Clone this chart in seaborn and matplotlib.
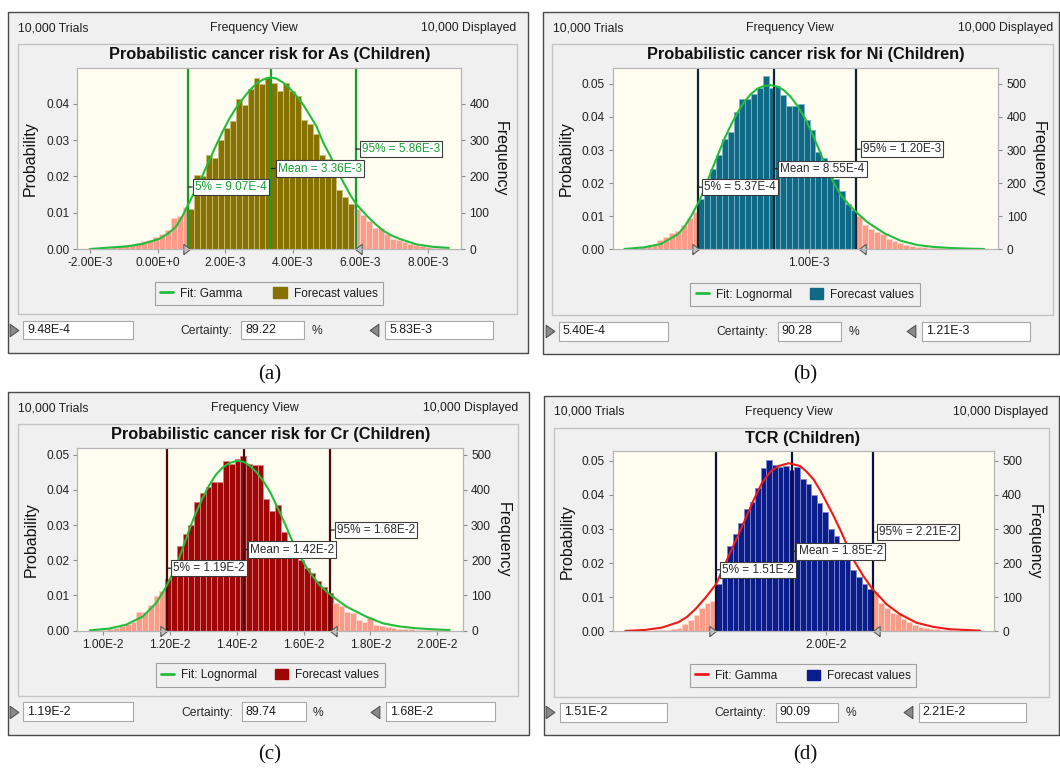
import numpy as np
import pandas as pd
import matplotlib
matplotlib.use("Agg")
import matplotlib.pyplot as plt
import seaborn as sns
from matplotlib.patches import Rectangle, Patch
from matplotlib.lines import Line2D

sns.set_style("white")
plt.rcParams['font.family'] = ['Liberation Sans', 'DejaVu Sans']

# ======================= DATA =======================
header_left = "10,000 Trials"
header_mid = "Frequency View"
header_right = "10,000 Displayed"
trials = 10000
label_prob = "Probability"
label_freq = "Frequency"
legend_hist = "Forecast values"
certainty_word = "Certainty:"

# ---- (a) As ----
a_title = "Probabilistic cancer risk for As (Children)"
a_fit_name = "Fit: Gamma"
a_bin_start = -2.064e-3
a_bin_width = 1.75e-4
a_prob = [0.0002, 0.0002, 0.0003, 0.0004, 0.0005, 0.0007, 0.0010, 0.0012, 0.0016, 0.0022,
          0.0025, 0.0033, 0.0042, 0.0053, 0.0085, 0.0090, 0.0115,
          0.0111, 0.0203, 0.0200, 0.0260, 0.0251, 0.0301, 0.0334, 0.0352, 0.0414, 0.0396,
          0.0440, 0.0471, 0.0455, 0.0474,
          0.0458, 0.0434, 0.0457, 0.0434, 0.0422, 0.0355, 0.0344, 0.0317, 0.0258, 0.0248,
          0.0198, 0.0162, 0.0143, 0.0123,
          0.0111, 0.0093, 0.0076, 0.0059, 0.0059, 0.0042, 0.0028, 0.0024, 0.0018, 0.0013,
          0.0010, 0.0008, 0.0005, 0.0003, 0.0002, 0.0001]
a_fit_x = [-2.00e-3, -1.43e-3, -0.93e-3, -0.44e-3, 0.05e-3, 0.30e-3, 0.54e-3, 0.73e-3, 0.92e-3,
           1.13e-3, 1.33e-3, 1.53e-3, 1.73e-3, 1.93e-3, 2.12e-3, 2.32e-3, 2.52e-3, 2.72e-3,
           2.91e-3, 3.10e-3, 3.30e-3, 3.50e-3, 3.70e-3, 3.90e-3, 4.10e-3, 4.30e-3, 4.50e-3,
           4.70e-3, 4.90e-3, 5.10e-3, 5.30e-3, 5.50e-3, 5.70e-3, 5.86e-3, 6.17e-3, 6.40e-3,
           6.66e-3, 6.90e-3, 7.15e-3, 7.64e-3, 8.14e-3, 8.61e-3]
a_fit_y = [0.0000, 0.0004, 0.0007, 0.0014, 0.0028, 0.0042, 0.0061, 0.0090, 0.0125,
           0.0165, 0.0203, 0.0245, 0.0286, 0.0325, 0.0359, 0.0389, 0.0414, 0.0437,
           0.0455, 0.0466, 0.0472, 0.0470, 0.0459, 0.0443, 0.0422, 0.0398, 0.0368,
           0.0337, 0.0292, 0.0257, 0.0218, 0.0182, 0.0148, 0.0125, 0.0093, 0.0072,
           0.0051, 0.0038, 0.0028, 0.0013, 0.0006, 0.0003]
a_stats = [9.07e-4, 3.36e-3, 5.86e-3]
a_stat_labels = ["5% = 9.07E-4", "Mean = 3.36E-3", "95% = 5.86E-3"]
a_cert = [9.48e-4, 5.83e-3]
a_cert_texts = ["9.48E-4", "89.22", "5.83E-3"]
a_xticks = [-2e-3, 0.0, 2e-3, 4e-3, 6e-3, 8e-3]
a_xticklabels = ["-2.00E-3", "0.00E+0", "2.00E-3", "4.00E-3", "6.00E-3", "8.00E-3"]
a_yticks = [0.00, 0.01, 0.02, 0.03, 0.04]
a_yticklabels = ["0.00", "0.01", "0.02", "0.03", "0.04"]
a_freqticks = [0, 100, 200, 300, 400]

# ---- (b) Ni ----
b_title = "Probabilistic cancer risk for Ni (Children)"
b_fit_name = "Fit: Lognormal"
b_bin_start = 2.204e-4
b_bin_width = 2.45e-5
b_prob = [0.0001, 0.0002, 0.0004, 0.0007, 0.0010, 0.0016, 0.0029, 0.0036, 0.0049, 0.0056,
          0.0072, 0.0094, 0.0112,
          0.0152, 0.0195, 0.0244, 0.0285, 0.0332, 0.0356, 0.0416, 0.0453, 0.0455, 0.0470,
          0.0487, 0.0523, 0.0487, 0.0495, 0.0467, 0.0432, 0.0432, 0.0438, 0.0390, 0.0360,
          0.0295, 0.0275, 0.0240, 0.0214, 0.0177, 0.0138, 0.0118,
          0.0102, 0.0074, 0.0062, 0.0051, 0.0045, 0.0030, 0.0024, 0.0018, 0.0013, 0.0010,
          0.0008, 0.0006, 0.0005, 0.0004, 0.0003, 0.0002, 0.0002, 0.0001, 0.0001, 0.0001, 0.0001]
b_fit_x = [2.29e-4, 3.12e-4, 3.82e-4, 4.52e-4, 4.80e-4, 5.08e-4, 5.38e-4, 5.66e-4, 5.91e-4,
           6.19e-4, 6.47e-4, 6.75e-4, 7.03e-4, 7.30e-4, 7.58e-4, 7.86e-4, 8.14e-4, 8.42e-4,
           8.70e-4, 8.98e-4, 9.26e-4, 9.54e-4, 9.88e-4, 1.022e-3, 1.050e-3, 1.078e-3,
           1.106e-3, 1.134e-3, 1.167e-3, 1.200e-3, 1.246e-3, 1.316e-3, 1.385e-3, 1.455e-3,
           1.525e-3, 1.595e-3, 1.665e-3, 1.735e-3]
b_fit_y = [0.0001, 0.0006, 0.0016, 0.0045, 0.0068, 0.0100, 0.0140, 0.0185, 0.0233,
           0.0283, 0.0333, 0.0376, 0.0414, 0.0445, 0.0469, 0.0486, 0.0494, 0.0496,
           0.0492, 0.0480, 0.0460, 0.0433, 0.0392, 0.0338, 0.0290, 0.0240,
           0.0200, 0.0165, 0.0136, 0.0112, 0.0082, 0.0049, 0.0026, 0.0013,
           0.0007, 0.0004, 0.0002, 0.0001]
b_stats = [5.37e-4, 8.55e-4, 1.20e-3]
b_stat_labels = ["5% = 5.37E-4", "Mean = 8.55E-4", "95% = 1.20E-3"]
b_cert = [5.40e-4, 1.21e-3]
b_cert_texts = ["5.40E-4", "90.28", "1.21E-3"]
b_xticks = [1.0e-3]
b_xticklabels = ["1.00E-3"]
b_yticks = [0.00, 0.01, 0.02, 0.03, 0.04, 0.05]
b_yticklabels = ["0.00", "0.01", "0.02", "0.03", "0.04", "0.05"]
b_freqticks = [0, 100, 200, 300, 400, 500]

# ---- (c) Cr ----
c_title = "Probabilistic cancer risk for Cr (Children)"
c_fit_name = "Fit: Lognormal"
c_bin_start = 9.605e-3
c_bin_width = 1.73e-4
c_prob = [0.0001, 0.0002, 0.0003, 0.0005, 0.0008, 0.0012, 0.0020, 0.0025, 0.0052, 0.0054,
          0.0072, 0.0098, 0.0112,
          0.0147, 0.0187, 0.0242, 0.0274, 0.0300, 0.0367, 0.0390, 0.0409, 0.0423, 0.0423,
          0.0482, 0.0473, 0.0488, 0.0495, 0.0473, 0.0470, 0.0470,
          0.0373, 0.0340, 0.0357, 0.0281, 0.0253, 0.0226, 0.0201, 0.0177, 0.0163, 0.0141,
          0.0125, 0.0108,
          0.0080, 0.0069, 0.0052, 0.0049, 0.0031, 0.0024, 0.0040, 0.0015, 0.0012, 0.0010,
          0.0008, 0.0006, 0.0005, 0.0005, 0.0003, 0.0002, 0.0002, 0.0001, 0.0001, 0.0001]
c_fit_x = [9.60e-3, 1.018e-2, 1.068e-2, 1.118e-2, 1.158e-2, 1.186e-2, 1.218e-2, 1.237e-2,
           1.257e-2, 1.277e-2, 1.297e-2, 1.317e-2, 1.337e-2, 1.357e-2, 1.377e-2, 1.402e-2,
           1.420e-2, 1.437e-2, 1.457e-2, 1.477e-2, 1.500e-2, 1.527e-2, 1.547e-2, 1.567e-2,
           1.587e-2, 1.607e-2, 1.627e-2, 1.647e-2, 1.680e-2, 1.727e-2, 1.787e-2, 1.837e-2,
           1.887e-2, 1.937e-2, 1.987e-2, 2.037e-2]
c_fit_y = [0.0001, 0.0006, 0.0017, 0.0040, 0.0078, 0.0121, 0.0182, 0.0232,
           0.0286, 0.0334, 0.0376, 0.0413, 0.0443, 0.0463, 0.0476, 0.0483,
           0.0480, 0.0470, 0.0452, 0.0428, 0.0393, 0.0339, 0.0297, 0.0252,
           0.0215, 0.0182, 0.0155, 0.0130, 0.0102, 0.0069, 0.0040, 0.0021,
           0.0012, 0.0007, 0.0004, 0.0002]
c_stats = [1.19e-2, 1.42e-2, 1.68e-2]
c_stat_labels = ["5% = 1.19E-2", "Mean = 1.42E-2", "95% = 1.68E-2"]
c_cert = [1.19e-2, 1.68e-2]
c_cert_texts = ["1.19E-2", "89.74", "1.68E-2"]
c_xticks = [1.0e-2, 1.2e-2, 1.4e-2, 1.6e-2, 1.8e-2, 2.0e-2]
c_xticklabels = ["1.00E-2", "1.20E-2", "1.40E-2", "1.60E-2", "1.80E-2", "2.00E-2"]
c_yticks = [0.00, 0.01, 0.02, 0.03, 0.04, 0.05]
c_yticklabels = ["0.00", "0.01", "0.02", "0.03", "0.04", "0.05"]
c_freqticks = [0, 100, 200, 300, 400, 500]

# ---- (d) TCR ----
d_title = "TCR (Children)"
d_fit_name = "Fit: Gamma"
d_bin_start = 1.11e-2
d_bin_width = 2.5e-4
d_prob = [0.0001, 0.0001, 0.0001, 0.0002, 0.0002, 0.0003, 0.0004, 0.0005, 0.0007, 0.0011,
          0.0022, 0.0032, 0.0048, 0.0068, 0.0082, 0.0088,
          0.0139, 0.0200, 0.0250, 0.0284, 0.0318, 0.0358, 0.0378, 0.0420, 0.0480, 0.0502,
          0.0489, 0.0481, 0.0484, 0.0472, 0.0481, 0.0447, 0.0432, 0.0400, 0.0376, 0.0349,
          0.0301, 0.0280, 0.0245, 0.0210, 0.0180, 0.0160, 0.0140, 0.0125,
          0.0115, 0.0084, 0.0067, 0.0055, 0.0050, 0.0035, 0.0026, 0.0019, 0.0014, 0.0010,
          0.0008, 0.0006, 0.0004, 0.0003, 0.0002, 0.0002, 0.0001, 0.0001, 0.0001, 0.0001]
d_fit_x = [1.105e-2, 1.194e-2, 1.269e-2, 1.343e-2, 1.380e-2, 1.418e-2, 1.465e-2, 1.510e-2,
           1.567e-2, 1.604e-2, 1.641e-2, 1.678e-2, 1.716e-2, 1.753e-2, 1.790e-2, 1.835e-2,
           1.885e-2, 1.915e-2, 1.945e-2, 1.975e-2, 2.004e-2, 2.034e-2, 2.064e-2, 2.094e-2,
           2.123e-2, 2.165e-2, 2.210e-2, 2.272e-2, 2.332e-2, 2.406e-2, 2.481e-2, 2.555e-2,
           2.689e-2]
d_fit_y = [0.0001, 0.0004, 0.0011, 0.0027, 0.0042, 0.0065, 0.0100, 0.0138,
           0.0221, 0.0275, 0.0329, 0.0385, 0.0436, 0.0468, 0.0485, 0.0493,
           0.0485, 0.0468, 0.0446, 0.0414, 0.0378, 0.0340, 0.0299, 0.0255,
           0.0211, 0.0165, 0.0123, 0.0079, 0.0050, 0.0025, 0.0013, 0.0006,
           0.0002]
d_stats = [1.51e-2, 1.85e-2, 2.21e-2]
d_stat_labels = ["5% = 1.51E-2", "Mean = 1.85E-2", "95% = 2.21E-2"]
d_cert = [1.51e-2, 2.21e-2]
d_cert_texts = ["1.51E-2", "90.09", "2.21E-2"]
d_xticks = [2.0e-2]
d_xticklabels = ["2.00E-2"]
d_yticks = [0.00, 0.01, 0.02, 0.03, 0.04, 0.05]
d_yticklabels = ["0.00", "0.01", "0.02", "0.03", "0.04", "0.05"]
d_freqticks = [0, 100, 200, 300, 400, 500]

captions = ["(a)", "(b)", "(c)", "(d)"]

# ======================= STYLE / LAYOUT =======================
W, H = 1060, 768
SALMON = "#fb9c88"
SALMON_EDGE = "#ffd2c8"
styles = [
    dict(color="#877200", edge="#c9bd78", vline="#14a02c", fit="#22bd3c", label="#16a030"),
    dict(color="#0f6a88", edge="#7fb4c6", vline="#0b2630", fit="#22bd3c", label="#2a2a2a"),
    dict(color="#a00606", edge="#d98080", vline="#4a0808", fit="#22bd3c", label="#2a2a2a"),
    dict(color="#0b1c8c", edge="#7f8ac8", vline="#0a1040", fit="#f01818", label="#2a2a2a"),
]
layouts = [
    dict(outer=(8.1, 11.7, 528.3, 352.7), hy=28.3, hx=(17.6, 254, 516), inner=(17.6, 44, 516.5, 314),
         title=(269.4, 54.7), plot=(77.4, 67.7, 461.4, 249), prob_x=30.4, freq_x=500,
         legend=(154.5, 282.3, 383, 305), by=(320.7, 339.3), tl=14.2, b1=(23, 132.5), cr=232.5,
         b2=(241, 304.2), pct=317, tr=374, b3=(385.3, 492.8), cap=(269.4, 375),
         xlim=(-2.372e-3, 8.98e-3), ytop=0.04994),
    dict(outer=(542.8, 11.7, 1059.4, 354), hy=28.3, hx=(553, 790.3, 1053.2), inner=(552.3, 44, 1053.2, 315.3),
         title=(805.5, 54.3), plot=(612.8, 67.7, 998.5, 249.3), prob_x=566.5, freq_x=1038.7,
         legend=(690.2, 283.3, 919.7, 306), by=(321.7, 340.7), tl=549.6, b1=(559, 667.6), cr=768.3,
         b2=(777.8, 841), pct=853.8, tr=911, b3=(922, 1030.2), cap=(805.5, 375),
         xlim=(1.804e-4, 1.795e-3), ytop=0.0549),
    dict(outer=(8.1, 391.7, 529, 735), hy=408.3, hx=(17.6, 255.2, 517.8), inner=(17.6, 424.3, 518.2, 696),
         title=(270.4, 435), plot=(77.4, 448, 463, 630.7), prob_x=31.1, freq_x=503.6,
         legend=(155.5, 663.3, 384.6, 686.7), by=(702.3, 721), tl=13.5, b1=(23, 132.5), cr=233.2,
         b2=(241.7, 305.9), pct=318.4, tr=375.2, b3=(386.3, 495.2), cap=(269.4, 755),
         xlim=(9.225e-3, 2.077e-2), ytop=0.0519),
    dict(outer=(543.5, 395.7, 1059.4, 735), hy=411.7, hx=(554.3, 788.6, 1048.2), inner=(553.7, 428.3, 1048.8, 696.7),
         title=(803, 438.3), plot=(613.1, 451.3, 994.1, 631.3), prob_x=567.2, freq_x=1034.3,
         legend=(689.5, 664.3, 916.3, 687.3), by=(702.7, 721.7), tl=550.3, b1=(559.7, 666.9), cr=766.6,
         b2=(775.7, 838.3), pct=851.1, tr=907.5, b3=(918.7, 1025.8), cap=(805.5, 755),
         xlim=(1.0505e-2, 2.752e-2), ytop=0.0528),
]

panels = [
    dict(title=a_title, fit_name=a_fit_name, bin_start=a_bin_start, bin_width=a_bin_width, prob=a_prob,
         fit_x=a_fit_x, fit_y=a_fit_y, stats=a_stats, stat_labels=a_stat_labels, cert=a_cert,
         cert_texts=a_cert_texts, xticks=a_xticks, xticklabels=a_xticklabels, yticks=a_yticks,
         yticklabels=a_yticklabels, freqticks=a_freqticks),
    dict(title=b_title, fit_name=b_fit_name, bin_start=b_bin_start, bin_width=b_bin_width, prob=b_prob,
         fit_x=b_fit_x, fit_y=b_fit_y, stats=b_stats, stat_labels=b_stat_labels, cert=b_cert,
         cert_texts=b_cert_texts, xticks=b_xticks, xticklabels=b_xticklabels, yticks=b_yticks,
         yticklabels=b_yticklabels, freqticks=b_freqticks),
    dict(title=c_title, fit_name=c_fit_name, bin_start=c_bin_start, bin_width=c_bin_width, prob=c_prob,
         fit_x=c_fit_x, fit_y=c_fit_y, stats=c_stats, stat_labels=c_stat_labels, cert=c_cert,
         cert_texts=c_cert_texts, xticks=c_xticks, xticklabels=c_xticklabels, yticks=c_yticks,
         yticklabels=c_yticklabels, freqticks=c_freqticks),
    dict(title=d_title, fit_name=d_fit_name, bin_start=d_bin_start, bin_width=d_bin_width, prob=d_prob,
         fit_x=d_fit_x, fit_y=d_fit_y, stats=d_stats, stat_labels=d_stat_labels, cert=d_cert,
         cert_texts=d_cert_texts, xticks=d_xticks, xticklabels=d_xticklabels, yticks=d_yticks,
         yticklabels=d_yticklabels, freqticks=d_freqticks),
]

label_fracs = [0.342, 0.444, 0.551]
TRI_R = [(-1.3, -1.0), (0.0, 0.0), (-1.3, 1.0), (-1.3, -1.0)]
TRI_L = [(1.3, -1.0), (0.0, 0.0), (1.3, 1.0), (1.3, -1.0)]
UI_TRI_R = [(-0.7, -1.0), (0.7, 0.0), (-0.7, 1.0), (-0.7, -1.0)]
UI_TRI_L = [(0.7, -1.0), (-0.7, 0.0), (0.7, 1.0), (0.7, -1.0)]

fig = plt.figure(figsize=(W / 100, H / 100), dpi=100)
fig.patch.set_facecolor("white")


def frect(x0, y0, x1, y1, **kw):
    r = Rectangle((x0 / W, 1 - y1 / H), (x1 - x0) / W, (y1 - y0) / H,
                  transform=fig.transFigure, **kw)
    fig.add_artist(r)


def ftext(x, y, s, **kw):
    fig.text(x / W, 1 - y / H, s, **kw)


def fmarker(x, y, verts):
    fig.add_artist(Line2D([x / W], [1 - y / H], transform=fig.transFigure, ls='none',
                          marker=verts, ms=9, mfc="#8a8a8a", mec="#4a4a4a", mew=0.7))


def draw_panel(d, L, S, caption):
    frect(*L['outer'], facecolor="#f0f0f0", edgecolor="#4a4a4a", lw=1.0, zorder=-10)
    frect(*L['inner'], facecolor="#f0f0f0", edgecolor="#c4c4c4", lw=1.0, zorder=-9)
    hy = L['hy']
    ftext(L['hx'][0], hy, header_left, ha='left', va='center', fontsize=8.8, color="#1e1e1e")
    ftext(L['hx'][1], hy, header_mid, ha='center', va='center', fontsize=8.8, color="#1e1e1e")
    ftext(L['hx'][2], hy, header_right, ha='right', va='center', fontsize=8.8, color="#1e1e1e")
    ftext(*L['title'], d['title'], ha='center', va='center', fontsize=11.8,
          fontweight='bold', color="#111111")

    px0, py0, px1, py1 = L['plot']
    ax = fig.add_axes([px0 / W, 1 - py1 / H, (px1 - px0) / W, (py1 - py0) / H])
    ax.set_facecolor("#fffdf0")

    prob = np.asarray(d['prob'], dtype=float)
    edges = d['bin_start'] + d['bin_width'] * np.arange(len(prob) + 1)
    centers = (edges[:-1] + edges[1:]) / 2
    lo, hi = d['cert']
    groups = [(centers < lo, SALMON, SALMON_EDGE),
              ((centers >= lo) & (centers <= hi), S['color'], S['edge']),
              (centers > hi, SALMON, SALMON_EDGE)]
    for mask, col, ec in groups:
        idx = np.where(mask)[0]
        if len(idx) == 0:
            continue
        df = pd.DataFrame({"value": centers[idx], "prob": prob[idx]})
        sns.histplot(data=df, x="value", weights="prob",
                     bins=[float(e) for e in edges[idx[0]: idx[-1] + 2]],
                     ax=ax, color=col, edgecolor=ec, linewidth=0.6, alpha=1, zorder=1)

    fit_df = pd.DataFrame({"x": d['fit_x'], "y": d['fit_y']})
    sns.lineplot(data=fit_df, x="x", y="y", ax=ax, color=S['fit'], lw=1.5, zorder=4)

    for v in d['stats']:
        ax.axvline(v, color=S['vline'], lw=1.6, zorder=3)
    for v, txt, yf in zip(d['stats'], d['stat_labels'], label_fracs):
        ax.annotate(txt, xy=(v, yf), xycoords=('data', 'axes fraction'), xytext=(4.6, 0),
                    textcoords='offset points', ha='left', va='center', fontsize=8.5,
                    color=S['label'],
                    bbox=dict(boxstyle='square,pad=0.18', fc='white', ec='#3c3c3c', lw=0.8),
                    arrowprops=dict(arrowstyle='-', color='#222222', lw=0.9, shrinkA=0, shrinkB=0),
                    zorder=6)

    ax.plot([lo], [0], ls='none', marker=TRI_R, ms=9.6, mfc="#c8c8c8", mec="#5a5a5a",
            mew=0.8, clip_on=False, zorder=10)
    ax.plot([hi], [0], ls='none', marker=TRI_L, ms=9.6, mfc="#c8c8c8", mec="#5a5a5a",
            mew=0.8, clip_on=False, zorder=10)

    ax.set_xlim(*L['xlim'])
    ax.set_ylim(0, L['ytop'])
    ax.set_xticks(d['xticks'])
    ax.set_xticklabels(d['xticklabels'])
    ax.set_yticks(d['yticks'])
    ax.set_yticklabels(d['yticklabels'])
    ax.set_xlabel("")
    ax.set_ylabel("")
    ax.tick_params(axis='both', direction='out', length=3, width=0.8, color="#8c8c8c",
                   labelsize=8.6, labelcolor="#222222", pad=2.8)
    ax.tick_params(axis='x', bottom=True)
    ax.tick_params(axis='y', left=True)

    ax2 = ax.twinx()
    ax2.set_ylim(0, L['ytop'] * trials)
    ax2.set_yticks(d['freqticks'])
    ax2.set_yticklabels([str(t) for t in d['freqticks']])
    ax2.tick_params(axis='y', direction='out', length=3, width=0.8, color="#8c8c8c",
                    labelsize=8.6, labelcolor="#222222", pad=2.8, right=True)
    for a in (ax, ax2):
        for sp in a.spines.values():
            sp.set_color("#b5b5b5")
            sp.set_linewidth(0.8)

    wpx = px1 - px0
    ax.text((L['prob_x'] - px0) / wpx, 0.5, label_prob, transform=ax.transAxes, rotation=90,
            ha='center', va='center', fontsize=11.5, color="#111111")
    ax.text((L['freq_x'] - px0) / wpx, 0.5, label_freq, transform=ax.transAxes, rotation=-90,
            ha='center', va='center', fontsize=11.5, color="#111111")

    lx0, ly0, lx1, ly1 = L['legend']
    handles = [Line2D([], [], color=S['fit'], lw=2.0),
               Patch(facecolor=S['color'], edgecolor=S['color'])]
    leg = ax2.legend(handles, [d['fit_name'], legend_hist], ncol=2, loc='center',
                     bbox_to_anchor=(lx0 / W, 1 - ly1 / H, (lx1 - lx0) / W, (ly1 - ly0) / H),
                     bbox_transform=fig.transFigure, mode='expand', frameon=True,
                     fancybox=False, edgecolor="#a0a0a0", facecolor="#f0f0f0", framealpha=1,
                     fontsize=8.6, handlelength=1.1, handleheight=1.0, handletextpad=0.6,
                     borderaxespad=0, borderpad=0.45)
    leg.get_frame().set_linewidth(0.8)
    for t in leg.get_texts():
        t.set_color("#1e1e1e")

    by0, by1 = L['by']
    bym = (by0 + by1) / 2
    for (bx0, bx1), txt in zip([L['b1'], L['b2'], L['b3']], d['cert_texts']):
        frect(bx0, by0, bx1, by1, facecolor="white", edgecolor="#a8a8a8", lw=0.8, zorder=-8)
        ftext(bx0 + 4, bym, txt, ha='left', va='center', fontsize=8.9, color="#1a1a1a")
    fmarker(L['tl'], bym, UI_TRI_R)
    fmarker(L['tr'], bym, UI_TRI_L)
    ftext(L['cr'], bym + 1, certainty_word, ha='right', va='center', fontsize=8.7, color="#2a2a2a")
    ftext(L['pct'], bym + 1, "%", ha='center', va='center', fontsize=8.7, color="#2a2a2a")

    ftext(*L['cap'], caption, ha='center', va='center', fontsize=15,
          family=['Liberation Serif', 'DejaVu Serif'], color="#111111")


for d, L, S, cap in zip(panels, layouts, styles, captions):
    draw_panel(d, L, S, cap)

fig.savefig("out.png", dpi=100, facecolor="white")
